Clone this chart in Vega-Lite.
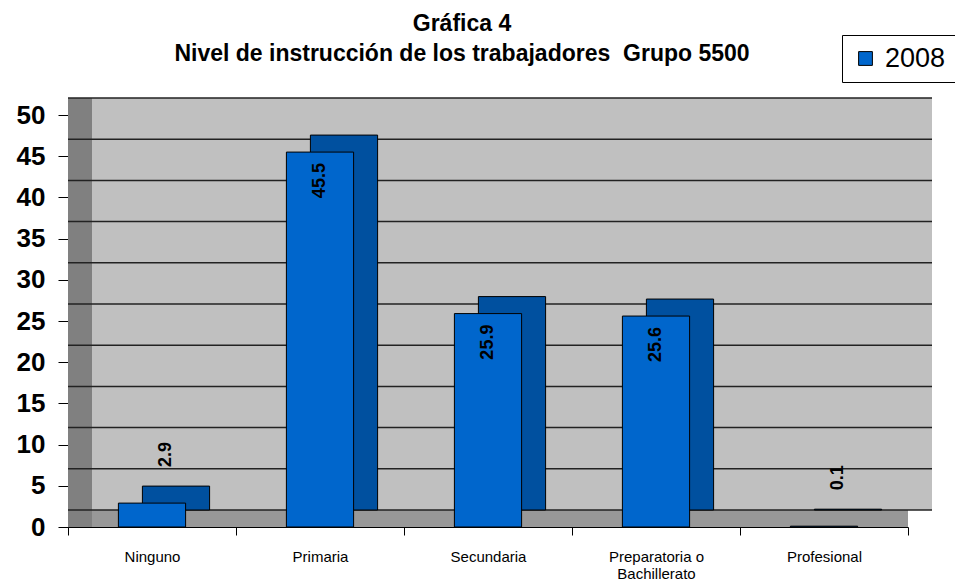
{
  "$schema": "https://vega.github.io/schema/vega-lite/v6.json",
  "width": 840,
  "height": 412,
  "autosize": {"type": "none"},
  "padding": {"left": 68, "top": 115, "right": 47, "bottom": 54},
  "background": "white",
  "title": {
    "text": ["Gráfica 4", "Nivel de instrucción de los trabajadores \u00a0Grupo 5500"],
    "fontSize": 23,
    "fontWeight": "bold",
    "lineHeight": 30,
    "color": "black",
    "anchor": "middle",
    "frame": "group",
    "dx": -26,
    "offset": -31
  },
  "datasets": {
    "niveles": [
      {"nivel": "Ninguno", "valor": 2.9, "serie": "2008"},
      {"nivel": "Primaria", "valor": 45.5, "serie": "2008"},
      {"nivel": "Secundaria", "valor": 25.9, "serie": "2008"},
      {"nivel": "Preparatoria o Bachillerato", "valor": 25.6, "serie": "2008"},
      {"nivel": "Profesional", "valor": 0.1, "serie": "2008"}
    ],
    "grid": [
      {"g": 0}, {"g": 5}, {"g": 10}, {"g": 15}, {"g": 20}, {"g": 25},
      {"g": 30}, {"g": 35}, {"g": 40}, {"g": 45}, {"g": 50}
    ],
    "pared": [{"parte": "fondo"}]
  },
  "data": {"name": "niveles"},
  "layer": [
    {
      "data": {"name": "pared"},
      "mark": {"type": "rect", "fill": "#C0C0C0", "xOffset": 24, "x2Offset": 24, "yOffset": -17, "y2Offset": -17},
      "encoding": {
        "y": {"datum": 0, "type": "quantitative", "title": null},
        "y2": {"datum": 50}
      }
    },
    {
      "data": {"name": "pared"},
      "mark": {"type": "rect", "fill": "#989898", "x2Offset": 24, "y2Offset": -17},
      "encoding": {
        "y": {"datum": 0, "type": "quantitative", "title": null},
        "y2": {"datum": 0}
      }
    },
    {
      "data": {"name": "pared"},
      "mark": {"type": "rect", "fill": "#808080", "x2Offset": 24, "y2Offset": -17},
      "encoding": {
        "x": {"datum": "Ninguno", "type": "nominal", "bandPosition": 0, "title": null},
        "x2": {"datum": "Ninguno", "bandPosition": 0},
        "y": {"datum": 0, "type": "quantitative", "title": null},
        "y2": {"datum": 50}
      }
    },
    {
      "data": {"name": "grid"},
      "mark": {"type": "rule", "color": "#222222", "strokeWidth": 1.5, "xOffset": 24, "x2Offset": 24, "yOffset": -17},
      "encoding": {
        "y": {"field": "g", "type": "quantitative", "title": null}
      }
    },
    {
      "mark": {"type": "bar", "fill": "#00509F", "stroke": "black", "strokeWidth": 1, "xOffset": 24, "yOffset": -17, "y2Offset": -17, "width": {"band": 0.4}},
      "encoding": {
        "x": {"field": "nivel", "type": "nominal", "sort": null, "title": null,
              "scale": {"paddingInner": 0, "paddingOuter": 0}},
        "y": {"field": "valor", "type": "quantitative", "title": null}
      }
    },
    {
      "mark": {"type": "bar", "stroke": "black", "strokeWidth": 1, "width": {"band": 0.4}},
      "encoding": {
        "x": {"field": "nivel", "type": "nominal", "sort": null, "title": null},
        "y": {"field": "valor", "type": "quantitative", "title": null,
              "scale": {"domain": [0, 50], "nice": false},
              "axis": {"values": [0, 5, 10, 15, 20, 25, 30, 35, 40, 45, 50]}},
        "color": {"field": "serie", "type": "nominal",
                  "scale": {"range": ["#0066CC"]},
                  "legend": {"orient": "none", "legendX": 774, "legendY": -80, "title": null,
                             "strokeColor": "black", "fillColor": "white", "padding": 10,
                             "symbolType": "square", "symbolSize": 190, "symbolStrokeColor": "black",
                             "symbolStrokeWidth": 1, "symbolFillColor": "#0066CC",
                             "labelFontSize": 27, "labelColor": "black", "labelOffset": 6}}
      }
    },
    {
      "transform": [{"filter": "datum.valor >= 10"}],
      "mark": {"type": "text", "angle": 270, "align": "right", "baseline": "middle", "dx": -11,
               "fontSize": 18, "fontWeight": "bold", "color": "black"},
      "encoding": {
        "x": {"field": "nivel", "type": "nominal", "sort": null, "title": null},
        "y": {"field": "valor", "type": "quantitative", "title": null},
        "text": {"field": "valor", "type": "quantitative", "format": ".1f"}
      }
    },
    {
      "transform": [{"filter": "datum.valor < 10"}],
      "mark": {"type": "text", "angle": 270, "align": "left", "baseline": "middle", "dx": 36, "xOffset": 14,
               "fontSize": 18, "fontWeight": "bold", "color": "black"},
      "encoding": {
        "x": {"field": "nivel", "type": "nominal", "sort": null, "title": null},
        "y": {"field": "valor", "type": "quantitative", "title": null},
        "text": {"field": "valor", "type": "quantitative", "format": ".1f"}
      }
    }
  ],
  "config": {
    "font": "Liberation Sans",
    "view": {"stroke": null},
    "axisY": {
      "grid": false,
      "domainColor": "black",
      "domainWidth": 1,
      "tickColor": "black",
      "tickSize": 10,
      "labelFontSize": 26,
      "labelFontWeight": "bold",
      "labelColor": "black",
      "labelPadding": 13
    },
    "axisX": {
      "grid": false,
      "domainColor": "black",
      "tickColor": "black",
      "tickSize": 8,
      "tickBand": "extent",
      "labelAngle": 0,
      "labelFontSize": 15,
      "labelColor": "black",
      "labelPadding": 14,
      "labelLineHeight": 17,
      "labelExpr": "datum.value == 'Preparatoria o Bachillerato' ? ['Preparatoria o', 'Bachillerato'] : datum.label"
    }
  }
}
